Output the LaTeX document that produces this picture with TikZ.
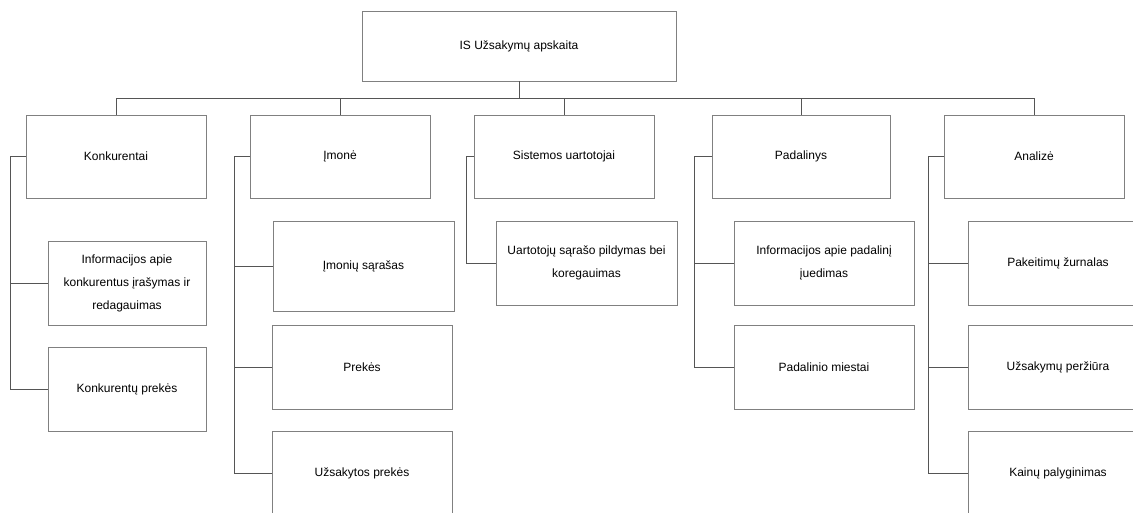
\documentclass[tikz,border=0pt]{standalone}
\usepackage{fontspec}
\setmainfont{Liberation Sans}
\begin{document}
\begin{tikzpicture}[x=1pt,y=-1pt,
  every node/.style={font=\fontsize{12}{23}\selectfont, align=center, inner sep=0pt},
  box/.style={draw=boxgray, line width=0.9pt, minimum width=180pt, minimum height=84pt},
  link/.style={draw=linkgray, line width=0.9pt}
]
\definecolor{boxgray}{HTML}{808080}
\definecolor{linkgray}{HTML}{555555}
\useasboundingbox (0,0) rectangle (1133,512);
\clip (0,0) rectangle (1133,512);

% root
\node[box, minimum width=314pt, minimum height=70pt] (root) at (519,46) {IS Užsakymų apskaita};

% first level
\node[box, minimum height=83pt] (kon) at (116,156.5) {Konkurentai};
\node[box, minimum height=83pt] (imo) at (340,156.5) {Įmonė};
\node[box, minimum height=83pt] (sis) at (564,156.5) {Sistemos uartotojai};
\node[box, minimum width=178pt, minimum height=83pt] (pad) at (801,156.5) {Padalinys};
\node[box, minimum height=83pt] (ana) at (1034,156.5) {Analizė};

% second level
\node[box, minimum width=158pt] (kinfo) at (127,283) {Informacijos apie\\konkurentus įrašymas ir\\redagauimas};
\node[box, minimum width=158pt] (kprek) at (127,389) {Konkurentų prekės};

\node[box, minimum width=181pt, minimum height=90pt] (isar) at (363.5,266) {Įmonių sąrašas};
\node[box] (iprek) at (362,367) {Prekės};
\node[box] (iuzs) at (362,473) {Užsakytos prekės};

\node[box, minimum width=181pt] (svart) at (586.5,263) {Uartotojų sąrašo pildymas bei\\koregauimas};

\node[box] (pinfo) at (824,263) {Informacijos apie padalinį\\įuedimas};
\node[box] (pmie) at (824,367) {Padalinio miestai};

\node[box] (apak) at (1058,263) {Pakeitimų žurnalas};
\node[box] (auzs) at (1058,367) {Užsakymų peržiūra};
\node[box] (akai) at (1058,473) {Kainų palyginimas};

% bus from the root to the first level
\coordinate (bus) at (519,98);
\foreach \n in {kon,imo,sis,pad,ana}
  \draw[link] (root.south) -- (bus) -| (\n.north);

% spines on the left of each group
\coordinate (ksp) at (10,0);
\coordinate (isp) at (234,0);
\coordinate (ssp) at (466,0);
\coordinate (psp) at (694,0);
\coordinate (asp) at (928,0);

\draw[link] (kon.west) -- (kon.west -| ksp) |- (kinfo.west);
\draw[link] (kon.west -| ksp) |- (kprek.west);

\draw[link] (imo.west) -- (imo.west -| isp) |- (isar.west);
\draw[link] (imo.west -| isp) |- (iprek.west);
\draw[link] (imo.west -| isp) |- (iuzs.west);

\draw[link] (sis.west) -- (sis.west -| ssp) |- (svart.west);

\draw[link] (pad.west) -- (pad.west -| psp) |- (pinfo.west);
\draw[link] (pad.west -| psp) |- (pmie.west);

\draw[link] (ana.west) -- (ana.west -| asp) |- (apak.west);
\draw[link] (ana.west -| asp) |- (auzs.west);
\draw[link] (ana.west -| asp) |- (akai.west);
\end{tikzpicture}
\end{document}
